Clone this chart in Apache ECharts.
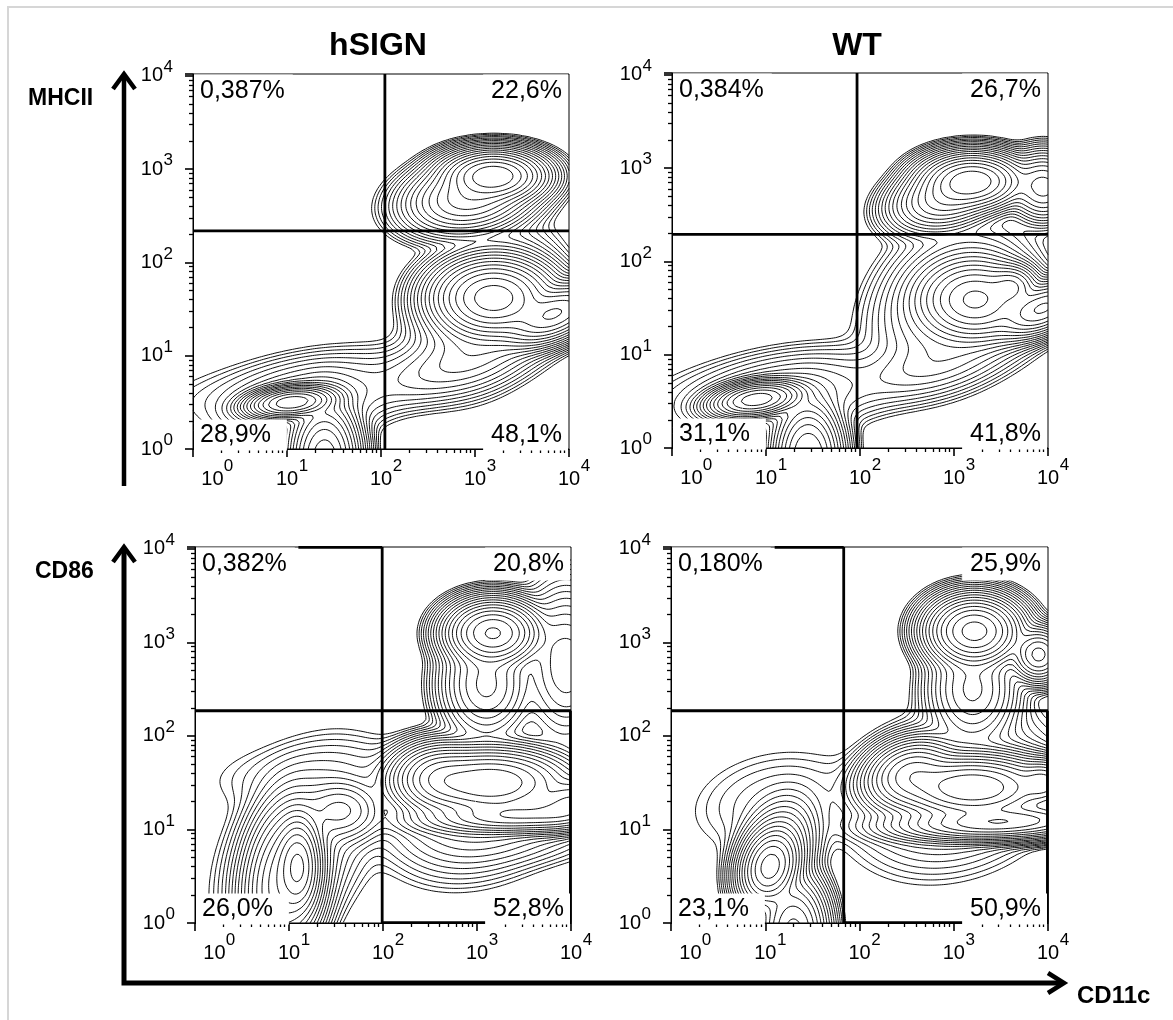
<!DOCTYPE html>
<html>
<head>
<meta charset="utf-8">
<script src="https://cdn.jsdelivr.net/npm/echarts@6/dist/echarts.min.js"></script>
<style>
html, body { margin: 0; padding: 0; background: #fff; }
#chart { width: 1173px; height: 1020px; }
</style>
</head>
<body>
<div id="chart"></div>
<script>
// titles and markers
var columnTitles = ['hSIGN', 'WT'];
var rowMarkers = ['MHCII', 'CD86'];
var xMarker = 'CD11c';

// minor ticks inside each decade of the log axes
var minorSteps = [2, 3, 4, 5, 6, 7, 8, 9];

// quadrant percentages: [upper-left, upper-right, lower-left, lower-right]
var pctHsignMhcii = ['0,387%', '22,6%', '28,9%', '48,1%'];
var pctWtMhcii = ['0,384%', '26,7%', '31,1%', '41,8%'];
var pctHsignCd86 = ['0,382%', '20,8%', '26,0%', '52,8%'];
var pctWtCd86 = ['0,180%', '25,9%', '23,1%', '50,9%'];

// quadrant gate positions (linear units)
var gateCd11c = [110, 93, 98, 68];
var gateMarker = [218, 195, 186, 186];

// cell populations in log10 space: [cx, cy, sx, sy, rho, weight]
var popsHsignMhcii = [
	[3.20, 2.93, 0.22, 0.11, 0.00, 1.00],
	[2.95, 2.70, 0.28, 0.16, 0.20, 0.25],
	[3.20, 1.62, 0.26, 0.17, 0.00, 0.90],
	[3.85, 1.45, 0.22, 0.14, 0.50, 0.45],
	[3.10, 1.50, 0.30, 0.33, 0.30, 0.03],
	[2.80, 0.90, 0.45, 0.20, 0.60, 0.01],
	[1.05, 0.50, 0.19, 0.07, 0.25, 1.00],
	[1.40, -0.10, 0.15, 0.25, 0.00, 0.60],
	[1.20, 0.50, 0.40, 0.20, 0.30, 0.012],
	[1.20, 0.70, 0.80, 0.22, 0.60, 0.0015]
];
var popsWtMhcii = [
	[3.20, 2.86, 0.22, 0.12, 0.00, 1.00],
	[2.95, 2.70, 0.24, 0.15, 0.30, 0.30],
	[3.95, 2.80, 0.15, 0.15, 0.00, 0.15],
	[3.23, 1.59, 0.25, 0.18, 0.00, 0.50],
	[3.62, 1.73, 0.12, 0.10, 0.00, 0.25],
	[3.95, 1.50, 0.20, 0.13, 0.50, 0.50],
	[3.00, 1.60, 0.35, 0.35, 0.30, 0.03],
	[2.80, 0.90, 0.45, 0.20, 0.60, 0.008],
	[0.90, 0.52, 0.20, 0.08, 0.30, 1.00],
	[1.45, -0.10, 0.15, 0.25, 0.00, 0.50],
	[1.20, 0.55, 0.45, 0.20, 0.30, 0.012],
	[1.20, 0.70, 0.80, 0.22, 0.55, 0.0015]
];
var popsHsignCd86 = [
	[3.17, 3.10, 0.20, 0.14, 0.00, 0.70],
	[3.10, 2.55, 0.20, 0.25, 0.00, 0.08],
	[3.95, 2.75, 0.20, 0.35, 0.00, 0.04],
	[3.15, 1.50, 0.35, 0.15, 0.00, 1.00],
	[3.50, 1.15, 0.45, 0.08, 0.20, 0.40],
	[4.00, 1.30, 0.20, 0.12, 0.30, 0.40],
	[2.60, 1.55, 0.20, 0.15, 0.00, 0.30],
	[3.00, 1.20, 0.40, 0.30, 0.20, 0.015],
	[3.20, 0.95, 0.50, 0.15, 0.00, 0.004],
	[1.10, 0.60, 0.10, 0.22, 0.00, 0.60],
	[0.95, 0.45, 0.18, 0.35, 0.20, 0.25],
	[1.55, 1.20, 0.20, 0.15, 0.00, 0.03],
	[1.10, 0.80, 0.35, 0.45, 0.40, 0.008],
	[1.40, 1.60, 0.60, 0.20, 0.20, 0.0012]
];
var popsWtCd86 = [
	[3.22, 3.12, 0.20, 0.15, 0.00, 0.80],
	[3.90, 2.87, 0.12, 0.12, 0.00, 0.20],
	[3.20, 2.50, 0.20, 0.25, 0.00, 0.05],
	[3.20, 1.45, 0.35, 0.14, 0.00, 1.00],
	[3.95, 1.50, 0.12, 0.10, 0.00, 0.30],
	[3.50, 1.08, 0.45, 0.08, 0.20, 0.40],
	[2.55, 1.60, 0.20, 0.15, 0.20, 0.30],
	[3.00, 1.40, 0.45, 0.35, 0.20, 0.012],
	[1.05, 0.60, 0.13, 0.17, 0.20, 0.50],
	[1.10, 0.75, 0.18, 0.24, 0.30, 0.05],
	[1.30, -0.10, 0.15, 0.25, 0.00, 0.20],
	[1.10, 1.30, 0.45, 0.28, 0.20, 0.0012]
];

var panelPops = [popsHsignMhcii, popsWtMhcii, popsHsignCd86, popsWtCd86];
var panelPct = [pctHsignMhcii, pctWtMhcii, pctHsignCd86, pctWtCd86];

var FONT = "'Liberation Sans', Arial, sans-serif";
var X_MAX = 4, Y_MAX = 4.02;
var LEVELS = 19, LEVEL_RATIO = 0.64;
var grids = [
	{left: 193, top: 74, width: 376, height: 375},
	{left: 672, top: 73, width: 376, height: 375},
	{left: 195, top: 547, width: 376, height: 376},
	{left: 671, top: 547, width: 377, height: 376}
];

function density(pops, x, y) {
	var d = 0;
	for (var i = 0; i < pops.length; i++) {
		var p = pops[i];
		var dx = (x - p[0]) / p[2], dy = (y - p[1]) / p[3], r = p[4];
		var q = (dx * dx - 2 * r * dx * dy + dy * dy) / (1 - r * r);
		d += p[5] * Math.exp(-q / 2);
	}
	return d;
}

// marching squares on a (nx+1)*(ny+1) grid, returns polylines in grid units
function marching(vals, nx, ny, lev) {
	var W = nx + 1;
	var pts = {}, adj = {}, segA = [], segB = [];
	function val(i, j) { return vals[j * W + i]; }
	function addEdge(id, i, j, horiz) {
		if (pts[id]) return;
		var a, b;
		if (horiz) {
			a = val(i, j); b = val(i + 1, j);
			pts[id] = [i + (lev - a) / (b - a), j];
		} else {
			a = val(i, j); b = val(i, j + 1);
			pts[id] = [i, j + (lev - a) / (b - a)];
		}
	}
	var table = {1: [[3, 0]], 2: [[0, 1]], 3: [[3, 1]], 4: [[1, 2]], 6: [[0, 2]], 7: [[3, 2]],
		8: [[2, 3]], 9: [[0, 2]], 11: [[1, 2]], 12: [[3, 1]], 13: [[0, 1]], 14: [[3, 0]]};
	for (var j = 0; j < ny; j++) {
		for (var i = 0; i < nx; i++) {
			var v0 = val(i, j), v1 = val(i + 1, j), v2 = val(i + 1, j + 1), v3 = val(i, j + 1);
			var code = (v0 > lev ? 1 : 0) | (v1 > lev ? 2 : 0) | (v2 > lev ? 4 : 0) | (v3 > lev ? 8 : 0);
			if (code === 0 || code === 15) continue;
			var pairs;
			if (code === 5 || code === 10) {
				var c = (v0 + v1 + v2 + v3) / 4 > lev;
				if (code === 5) pairs = c ? [[0, 1], [2, 3]] : [[3, 0], [1, 2]];
				else pairs = c ? [[3, 0], [1, 2]] : [[0, 1], [2, 3]];
			} else {
				pairs = table[code];
			}
			var eid = [(j * nx + i) * 2, (j * W + i + 1) * 2 + 1, ((j + 1) * nx + i) * 2, (j * W + i) * 2 + 1];
			var einfo = [[i, j, true], [i + 1, j, false], [i, j + 1, true], [i, j, false]];
			for (var k = 0; k < pairs.length; k++) {
				var ea = eid[pairs[k][0]], eb = eid[pairs[k][1]];
				addEdge(ea, einfo[pairs[k][0]][0], einfo[pairs[k][0]][1], einfo[pairs[k][0]][2]);
				addEdge(eb, einfo[pairs[k][1]][0], einfo[pairs[k][1]][1], einfo[pairs[k][1]][2]);
				var s = segA.length;
				segA.push(ea); segB.push(eb);
				(adj[ea] = adj[ea] || []).push(s);
				(adj[eb] = adj[eb] || []).push(s);
			}
		}
	}
	var used = new Uint8Array(segA.length);
	function extend(chain) {
		while (true) {
			var last = chain[chain.length - 1];
			var list = adj[last], next = -1;
			for (var t = 0; t < list.length; t++) {
				if (!used[list[t]]) { next = list[t]; break; }
			}
			if (next < 0) break;
			used[next] = 1;
			chain.push(segA[next] === last ? segB[next] : segA[next]);
		}
	}
	var lines = [];
	for (var s2 = 0; s2 < segA.length; s2++) {
		if (used[s2]) continue;
		used[s2] = 1;
		var chain = [segA[s2], segB[s2]];
		extend(chain);
		chain.reverse();
		extend(chain);
		lines.push(chain.map(function (id) { return pts[id]; }));
	}
	return lines;
}

function contourData(pops) {
	var nx = 170, ny = 170;
	var vals = new Float64Array((nx + 1) * (ny + 1));
	var vmax = 0;
	for (var j = 0; j <= ny; j++) {
		for (var i = 0; i <= nx; i++) {
			var v = density(pops, X_MAX * i / nx, Y_MAX * j / ny);
			vals[j * (nx + 1) + i] = v;
			if (v > vmax) vmax = v;
		}
	}
	var out = [];
	for (var k = 1; k <= LEVELS; k++) {
		var lines = marching(vals, nx, ny, vmax * Math.pow(LEVEL_RATIO, k));
		lines.forEach(function (pl) {
			pl.forEach(function (pt) {
				out.push([pt[0] * X_MAX / nx, pt[1] * Y_MAX / ny]);
			});
			out.push(['-', '-']);
		});
	}
	return out;
}

var minorLog = [];
for (var d = 0; d < 4; d++) {
	for (var m = 0; m < minorSteps.length; m++) {
		minorLog.push(d + Math.log10(minorSteps[m]));
	}
}

function pad(n) { return new Array(n + 1).join('\u00a0'); }
function isDecade(v) { return Math.abs(v - Math.round(v)) < 1e-6; }

var tickLine = {color: '#000', width: 1.6};
var hidden = {axisLine: {show: false}, splitLine: {show: false}};

var xAxes = [], yAxes = [], series = [], graphics = [];
grids.forEach(function (g, gi) {
	// decade ticks with the "10" base of each label
	xAxes.push({
		type: 'value', gridIndex: gi, min: 0, max: X_MAX, interval: 1, position: 'bottom',
		axisLine: {show: true, onZero: false, lineStyle: {color: '#000', width: 1}},
		axisTick: {show: true, length: 8, lineStyle: tickLine},
		axisLabel: {
			margin: 20, fontSize: 20, color: '#000',
			formatter: function (v) { return isDecade(v) ? (v === 0 ? pad(7) : '') + '10' : ''; }
		},
		splitLine: {show: false}
	});
	// minor ticks
	xAxes.push(echarts.util.extend({
		type: 'value', gridIndex: gi, min: 0, max: X_MAX, position: 'bottom',
		axisLabel: {show: false},
		axisTick: {show: true, length: 4, customValues: minorLog, lineStyle: {color: '#000', width: 1.3}}
	}, hidden));
	// exponents, raised
	xAxes.push(echarts.util.extend({
		type: 'value', gridIndex: gi, min: 0, max: X_MAX, interval: 1, position: 'bottom',
		axisTick: {show: false},
		axisLabel: {
			margin: 9, fontSize: 17, color: '#000',
			formatter: function (v) { return isDecade(v) ? (v === 0 ? pad(15) : pad(7)) + Math.round(v) : ''; }
		}
	}, hidden));

	yAxes.push({
		type: 'value', gridIndex: gi, min: 0, max: Y_MAX, interval: 1, position: 'left',
		axisLine: {show: true, onZero: false, lineStyle: {color: '#000', width: 1}},
		axisTick: {show: true, length: 8, lineStyle: tickLine},
		axisLabel: {
			margin: 30, fontSize: 20, color: '#000',
			formatter: function (v) { return isDecade(v) ? '10' : ''; }
		},
		splitLine: {show: false}
	});
	yAxes.push(echarts.util.extend({
		type: 'value', gridIndex: gi, min: 0, max: Y_MAX, position: 'left',
		axisLabel: {show: false},
		axisTick: {show: true, length: 4, customValues: minorLog, lineStyle: {color: '#000', width: 1.3}}
	}, hidden));
	yAxes.push(echarts.util.extend({
		type: 'value', gridIndex: gi, min: 0, max: Y_MAX, interval: 1, position: 'left',
		axisTick: {show: false},
		axisLabel: {
			margin: 20, fontSize: 17, color: '#000', verticalAlign: 'bottom',
			formatter: function (v) { return isDecade(v) ? String(Math.round(v)) : ''; }
		}
	}, hidden));

	series.push({
		type: 'line', xAxisIndex: gi * 3, yAxisIndex: gi * 3, silent: true,
		showSymbol: false, symbol: 'none', connectNulls: false, z: 2,
		lineStyle: {color: '#111', width: 1},
		data: contourData(panelPops[gi])
	});

	var gx = Math.log10(gateCd11c[gi]), gy = Math.log10(gateMarker[gi]);
	var gateData = [[gx, 0], [gx, Y_MAX], ['-', '-'], [0, gy], [X_MAX, gy]];
	if (gi >= 2) {
		gateData.push(['-', '-'], [gx, 0.004], [X_MAX - 0.006, 0.004], [X_MAX - 0.006, gy]);
		gateData.push(['-', '-'], [1.1, Y_MAX - 0.004], [gx, Y_MAX - 0.004]);
	}
	series.push({
		type: 'line', xAxisIndex: gi * 3, yAxisIndex: gi * 3, silent: true, clip: false,
		showSymbol: false, symbol: 'none', connectNulls: false, z: 3,
		lineStyle: {color: '#000', width: 2.8},
		data: gateData
	});

	var pct = panelPct[gi];
	var bottom = g.top + g.height, right = g.left + g.width;
	var pos = [
		[g.left + 1, g.top + 17, 'left', [4, 8, 4, 6]],
		[right - 1, g.top + 17, 'right', [4, 6, 4, 8]],
		[g.left + 1, bottom - 14, 'left', [5, 16, 1, 6]],
		[right - 1, bottom - 14, 'right', [5, 6, 1, 8]]
	];
	pos.forEach(function (p, k) {
		graphics.push({
			type: 'text', z: 20, silent: true,
			style: {
				text: pct[k], x: p[0], y: p[1], align: p[2], verticalAlign: 'middle',
				font: '25px ' + FONT, fill: '#000', backgroundColor: '#fff', padding: p[3]
			}
		});
	});
});

// frame of the figure
graphics.push({
	type: 'polyline', silent: true, z: 1,
	shape: {points: [[8, 1020], [8, 7], [1173, 7]]},
	style: {stroke: '#d6d6d6', lineWidth: 2, fill: null}
});
// column titles
graphics.push({type: 'text', z: 20, style: {text: columnTitles[0], x: 378, y: 46, align: 'center', verticalAlign: 'middle', font: 'bold 32px ' + FONT, fill: '#000'}});
graphics.push({type: 'text', z: 20, style: {text: columnTitles[1], x: 857, y: 46, align: 'center', verticalAlign: 'middle', font: 'bold 32px ' + FONT, fill: '#000'}});
// markers
graphics.push({type: 'text', z: 20, style: {text: rowMarkers[0], x: 28, y: 99, align: 'left', verticalAlign: 'middle', font: 'bold 23px ' + FONT, fill: '#000'}});
graphics.push({type: 'text', z: 20, style: {text: rowMarkers[1], x: 35, y: 572, align: 'left', verticalAlign: 'middle', font: 'bold 23px ' + FONT, fill: '#000'}});
graphics.push({type: 'text', z: 20, style: {text: xMarker, x: 1077, y: 996, align: 'left', verticalAlign: 'middle', font: 'bold 24px ' + FONT, fill: '#000'}});
// axis arrows
graphics.push({type: 'polyline', z: 20, shape: {points: [[124, 486], [124, 76]]}, style: {stroke: '#000', lineWidth: 4.5, fill: null}});
graphics.push({type: 'polyline', z: 20, shape: {points: [[113, 89], [124, 74], [135, 89]]}, style: {stroke: '#000', lineWidth: 4.5, fill: null, lineJoin: 'miter'}});
graphics.push({type: 'polyline', z: 20, shape: {points: [[124, 550], [124, 983], [1063, 983]]}, style: {stroke: '#000', lineWidth: 5, fill: null, lineJoin: 'miter'}});
graphics.push({type: 'polyline', z: 20, shape: {points: [[113, 562], [124, 547], [135, 562]]}, style: {stroke: '#000', lineWidth: 4.5, fill: null, lineJoin: 'miter'}});
graphics.push({type: 'polyline', z: 20, shape: {points: [[1048, 973], [1064, 983], [1048, 993]]}, style: {stroke: '#000', lineWidth: 4.5, fill: null, lineJoin: 'miter'}});

var chart = echarts.init(document.getElementById('chart'));
chart.setOption({
	animation: false,
	backgroundColor: '#fff',
	grid: grids.map(function (g) {
		return {left: g.left, top: g.top, width: g.width, height: g.height, show: true, borderColor: '#000', borderWidth: 1, backgroundColor: 'transparent'};
	}),
	xAxis: xAxes,
	yAxis: yAxes,
	series: series,
	graphic: graphics
});
</script>
</body>
</html>
